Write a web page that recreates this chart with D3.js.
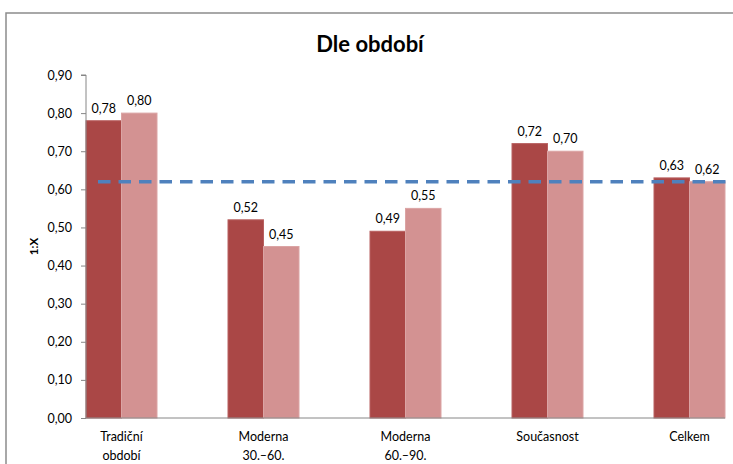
<!DOCTYPE html>
<html>
<head>
<meta charset="utf-8">
<script src="https://cdn.jsdelivr.net/npm/d3@7"></script>
<style>
  body { margin: 0; background: #fff; }
  text { font-family: Lato, "Open Sans", sans-serif; fill: #000; }
</style>
</head>
<body>
<div id="container"></div>
<script>
/* DATA */
const categories = ["Tradiční|období", "Moderna|30.–60.", "Moderna|60.–90.", "Současnost", "Celkem"];
const seriesA = [0.78, 0.52, 0.49, 0.72, 0.63];
const seriesB = [0.80, 0.45, 0.55, 0.70, 0.62];
const averageLine = 0.62;
const yTicks = [0, 0.1, 0.2, 0.3, 0.4, 0.5, 0.6, 0.7, 0.8, 0.9];

/* CONSTANTS */
const width = 733, height = 464;
const margin = { top: 75, left: 86, bottom: 46 };
const bandStep = 142;

const svg = d3.select("#container")
  .append("svg")
  .attr("width", width)
  .attr("height", height);

// chart frame (runs off the right and bottom edge like the source)
svg.append("rect")
  .attr("x", 6).attr("y", 13)
  .attr("width", 800).attr("height", 500)
  .attr("fill", "none")
  .attr("stroke", "#8c8c8c")
  .attr("stroke-width", 1.5);

// SCALES
const y = d3.scaleLinear()
  .domain([0, 0.9])
  .range([height - margin.bottom, margin.top]);

// band scale laid out so the first bar sits on the axis
const x = d3.scaleBand()
  .domain(categories)
  .range([margin.left - 35.5, margin.left - 35.5 + bandStep * categories.length])
  .paddingInner(0.5)
  .paddingOuter(0.25);

const xSub = d3.scaleBand()
  .domain(["a", "b"])
  .range([0, x.bandwidth()]);

const colors = { a: "#aa4746", b: "#d39292" };

// title
svg.append("text")
  .attr("x", 370).attr("y", 52)
  .attr("text-anchor", "middle")
  .attr("font-size", 22)
  .attr("font-weight", "bold")
  .text("Dle období");

// y axis title
svg.append("text")
  .attr("transform", `translate(38, ${y(0.45)}) rotate(-90)`)
  .attr("text-anchor", "middle")
  .attr("font-size", 11.5)
  .attr("font-weight", "bold")
  .text("1:X");

// BARS
const groups = svg.selectAll("g.cat")
  .data(categories.map((c, i) => ({ c, a: seriesA[i], b: seriesB[i] })))
  .join("g")
  .attr("class", "cat")
  .attr("transform", d => `translate(${x(d.c)},0)`);

["a", "b"].forEach(k => {
  groups.append("rect")
    .attr("x", xSub(k))
    .attr("y", d => y(d[k]))
    .attr("width", xSub.bandwidth())
    .attr("height", d => y(0) - y(d[k]))
    .attr("fill", colors[k])
    .attr("stroke", k === "a" ? "#b86060" : "#dba4a4")
    .attr("stroke-width", 1);

  groups.append("text")
    .attr("x", xSub(k) + xSub.bandwidth() / 2)
    .attr("y", d => y(d[k]) - 8)
    .attr("text-anchor", "middle")
    .attr("font-size", 12.5)
    .text(d => d3.format(".2f")(d[k]).replace(".", ","));
});

// Y AXIS
const yAxis = svg.append("g")
  .attr("transform", `translate(${margin.left},0)`)
  .call(d3.axisLeft(y)
    .tickValues(yTicks)
    .tickSize(5)
    .tickPadding(9)
    .tickFormat(d => d3.format(".2f")(d).replace(".", ",")));
yAxis.select(".domain").attr("stroke", "#868686").attr("d", `M0,${y(0.9)}V${y(0)}M-5,${y(0.9)}H0`);
yAxis.selectAll(".tick line").attr("stroke", "#868686");
yAxis.selectAll(".tick text").attr("font-size", 12.5).attr("fill", "#000");

// X AXIS line
svg.append("line")
  .attr("x1", margin.left).attr("x2", x(categories[4]) + x.bandwidth())
  .attr("y1", y(0)).attr("y2", y(0))
  .attr("stroke", "#868686");

// category labels
svg.selectAll("text.cat-label")
  .data(categories)
  .join("text")
  .attr("class", "cat-label")
  .attr("text-anchor", "middle")
  .attr("font-size", 12.5)
  .attr("x", d => x(d) + x.bandwidth() / 2)
  .attr("y", 441)
  .selectAll("tspan")
  .data(d => d.split("|"))
  .join("tspan")
  .attr("x", function () { return d3.select(this.parentNode).attr("x"); })
  .attr("dy", (d, i) => i === 0 ? 0 : 19)
  .text(d => d);

// average dashed line
svg.append("line")
  .attr("x1", 98).attr("x2", width)
  .attr("y1", y(averageLine)).attr("y2", y(averageLine))
  .attr("stroke", "#4f81bd")
  .attr("stroke-width", 3.5)
  .attr("stroke-dasharray", "12.5,8");
</script>
</body>
</html>
